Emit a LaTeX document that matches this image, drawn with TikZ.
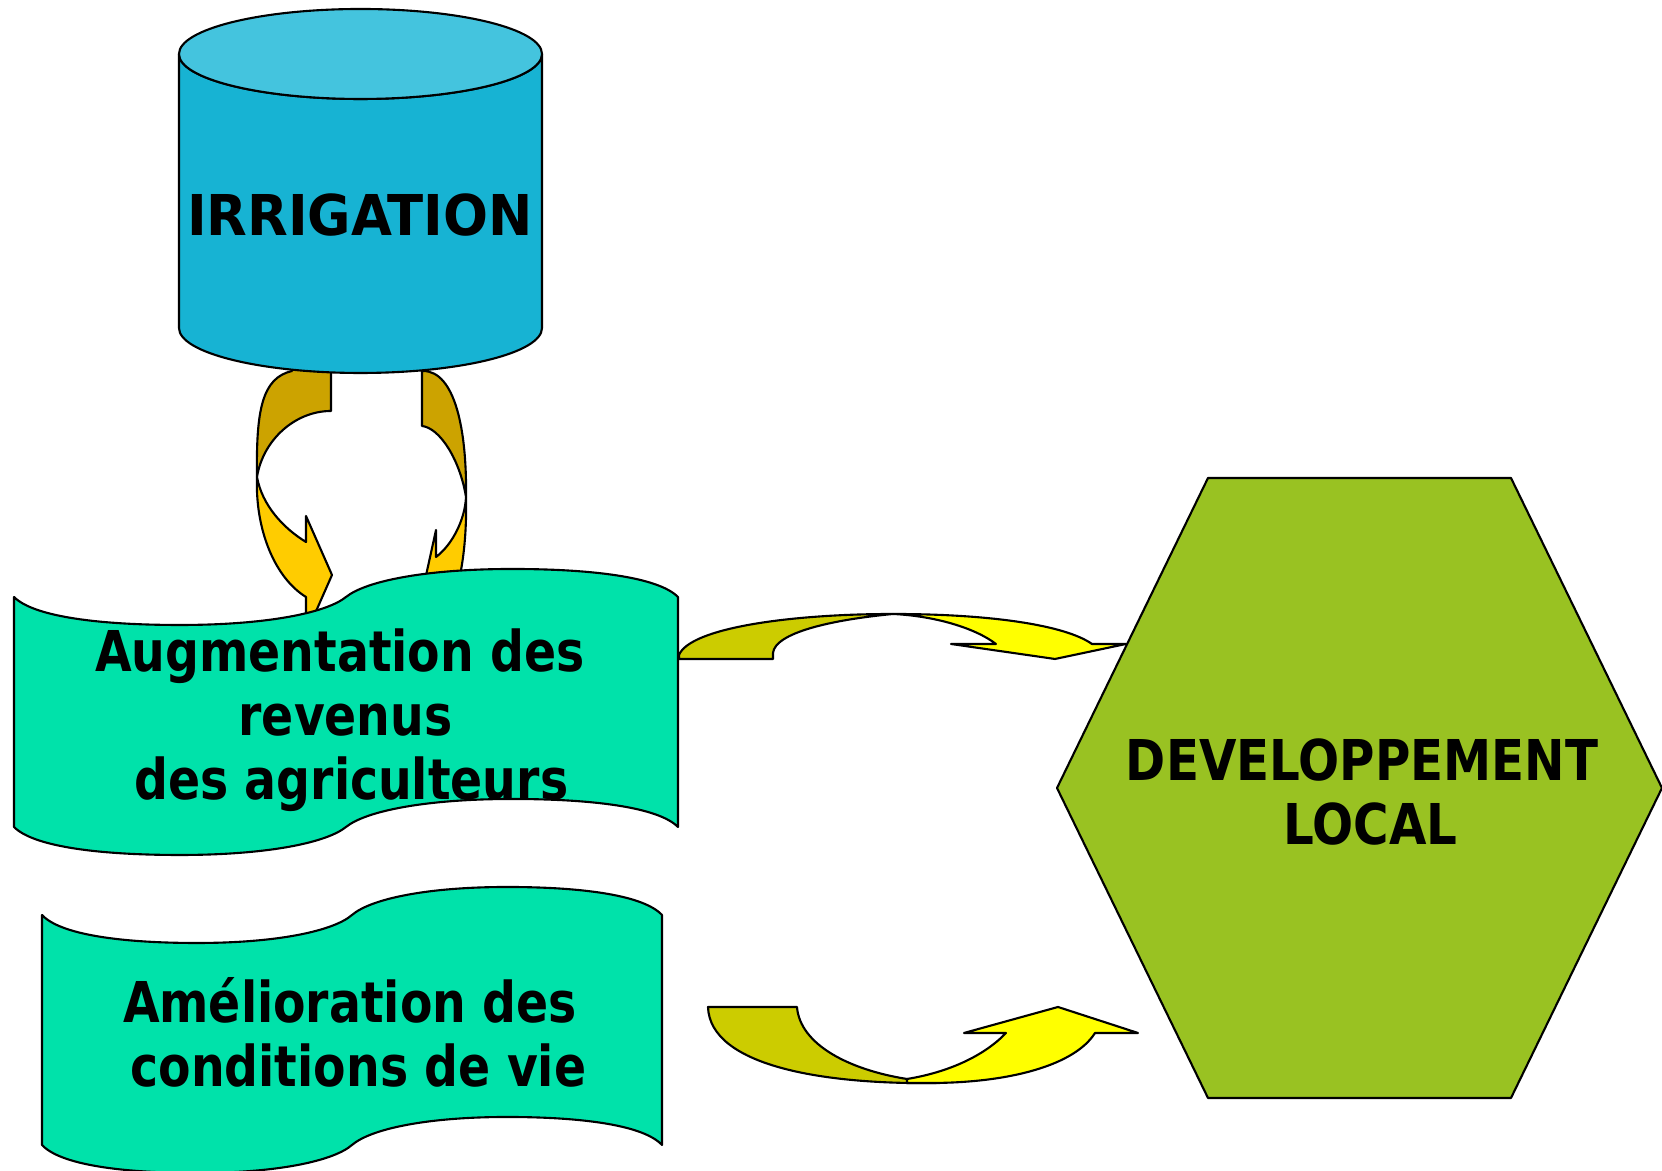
\documentclass[tikz,border=0pt]{standalone}
\usepackage{fontspec}
\setmainfont{DejaVu Sans Condensed}
\usetikzlibrary{calc}

\definecolor{cylbody}{RGB}{23,179,211}
\definecolor{cyltop}{RGB}{68,196,222}
\definecolor{banner}{RGB}{0,226,170}
\definecolor{hexgreen}{RGB}{153,194,34}
\definecolor{golddark}{RGB}{204,163,0}
\definecolor{goldlight}{RGB}{255,204,0}
\definecolor{olivedark}{RGB}{204,204,0}
\definecolor{olivelight}{RGB}{255,255,0}

\begin{document}
\begin{tikzpicture}[x=0.01cm, y=-0.01cm, line width=0.6pt,
	lbl/.style={font=\fontsize{16}{18.2}\selectfont\bfseries\addfontfeature{FakeStretch=#1},
		align=center, inner sep=0pt},
	lbl/.default=1,
	blockline/.style={draw=black, line join=round}]
	\def \ry {45}
	\def \rx {181.5}

	\useasboundingbox (0,0) rectangle (1662,1171);

	% curved arrows between the cylinder and the first banner
	\filldraw[blockline, fill=golddark] (292,360) -- (292,371)
		.. controls (262,378) and (256,410) .. (257,477)
		.. controls (263,440) and (295,411) .. (331,411) -- (331,360) -- cycle;
	\filldraw[blockline, fill=goldlight] (257,477)
		.. controls (255,530) and (275,578) .. (306,597) -- (306,634)
		-- (332,575) -- (306,516) -- (306,542)
		.. controls (283,528) and (262,505) .. (257,477) -- cycle;
	\filldraw[blockline, fill=golddark] (422,360) -- (422,426)
		.. controls (440,428) and (460,460) .. (466,497)
		.. controls (467,430) and (455,371) .. (423,371) -- (423,360) -- cycle;
	\filldraw[blockline, fill=goldlight] (466,497)
		.. controls (467,540) and (462,580) .. (450,610) -- (458,640)
		-- (418,612) -- (436,530) -- (436,557)
		.. controls (452,545) and (465,520) .. (466,497) -- cycle;

	% cylinder
	\filldraw[blockline, fill=cylbody] (179,54) -- (179,328)
		arc[start angle=180, end angle=0, x radius=\rx, y radius=\ry]
		-- (542,54) arc[start angle=0, end angle=180, x radius=\rx, y radius=\ry] -- cycle;
	\filldraw[blockline, fill=cyltop] (360.5,54) ellipse[x radius=\rx, y radius=\ry];
	\node[lbl=1.045] (irrigation) at (360,215) {IRRIGATION};

	% banners
	\begin{scope}[shift={(14,597)}, xscale=6.64]
		\filldraw[blockline, fill=banner] (0,0)
			.. controls (3,20) and (13,28) .. (25,28)
			.. controls (38,28) and (47,16) .. (50,0)
			.. controls (53,-16) and (62,-28) .. (75,-28)
			.. controls (87,-28) and (97,-20) .. (100,0) -- (100,230)
			.. controls (97,210) and (87,202) .. (75,202)
			.. controls (62,202) and (53,214) .. (50,230)
			.. controls (47,246) and (38,258) .. (25,258)
			.. controls (13,258) and (3,250) .. (0,230) -- cycle;
	\end{scope}
	\node[lbl=0.935] (revenus) at (340,720)
		{Augmentation des\\\hspace*{0.2em}revenus\\\hspace*{0.4em}des agriculteurs};

	\begin{scope}[shift={(42,915)}, xscale=6.2]
		\filldraw[blockline, fill=banner] (0,0)
			.. controls (3,20) and (13,28) .. (25,28)
			.. controls (38,28) and (47,16) .. (50,0)
			.. controls (53,-16) and (62,-28) .. (75,-28)
			.. controls (87,-28) and (97,-20) .. (100,0) -- (100,230)
			.. controls (97,210) and (87,202) .. (75,202)
			.. controls (62,202) and (53,214) .. (50,230)
			.. controls (47,246) and (38,258) .. (25,258)
			.. controls (13,258) and (3,250) .. (0,230) -- cycle;
	\end{scope}
	\node[lbl=0.935] (conditions) at (350,1032)
		{Amélioration des\\\hspace*{0.3em}conditions de vie};

	% hexagon
	\filldraw[blockline, fill=hexgreen] (1208,478) -- (1511,478) -- (1662,788)
		-- (1511,1098) -- (1208,1098) -- (1057,788) -- cycle;
	\node[lbl=0.955] (devlocal) at (1362,792) {DEVELOPPEMENT\\\hspace*{0.3em}LOCAL};

	% curved arrows towards the hexagon
	\filldraw[blockline, fill=olivedark] (679,659) -- (679,655)
		.. controls (690,628) and (790,614) .. (893,614)
		.. controls (830,620) and (775,633) .. (773,653) -- (773,659) -- cycle;
	\filldraw[blockline, fill=olivelight] (893,614)
		.. controls (990,614) and (1065,625) .. (1092,644) -- (1126,644)
		-- (1055,659) -- (951,644) -- (996,644)
		.. controls (975,628) and (935,616) .. (893,614) -- cycle;

	\filldraw[blockline, fill=olivedark] (708,1007) -- (797,1007)
		.. controls (800,1045) and (850,1070) .. (907,1079) -- (940,1083)
		.. controls (820,1085) and (710,1065) .. (708,1007) -- cycle;
	\filldraw[blockline, fill=olivelight] (907,1079)
		.. controls (950,1072) and (985,1055) .. (1006,1033) -- (964,1033)
		-- (1058,1007) -- (1138,1033) -- (1095,1033)
		.. controls (1075,1065) and (1010,1083) .. (930,1083) -- (907,1083) -- cycle;
\end{tikzpicture}
\end{document}
